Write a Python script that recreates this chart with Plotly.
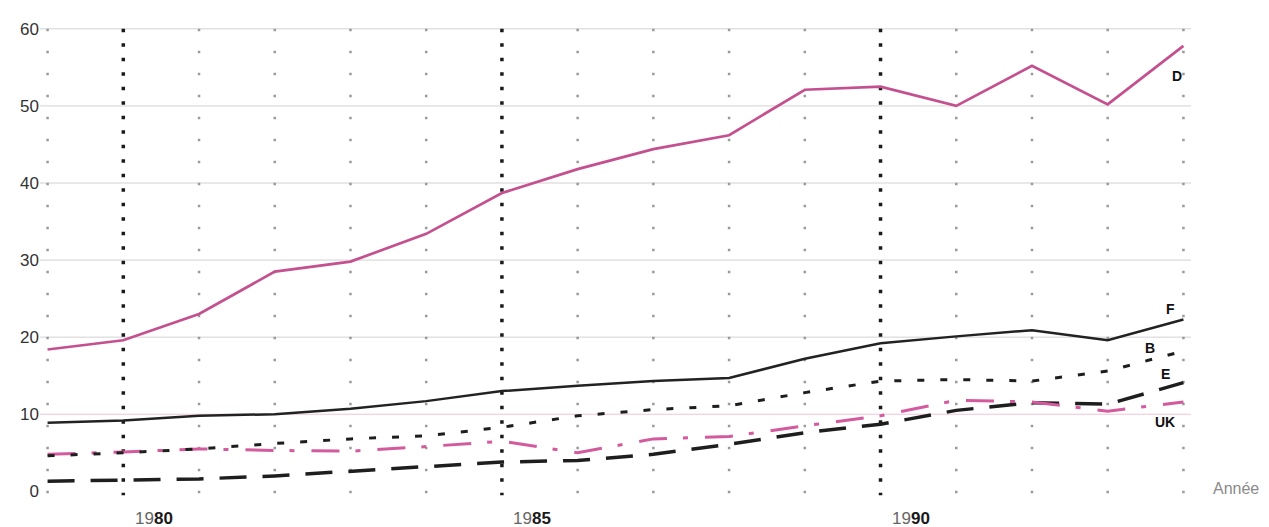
import plotly.graph_objects as go

years = list(range(1979, 1995))
D = [18.4, 19.6, 23.0, 28.5, 29.8, 33.4, 38.7, 41.8, 44.4, 46.2, 52.1, 52.5, 50.0, 55.2, 50.2, 57.8]
F = [8.9, 9.2, 9.8, 10.0, 10.7, 11.7, 13.0, 13.7, 14.3, 14.7, 17.2, 19.2, 20.1, 20.9, 19.6, 22.3]
B = [4.6, 5.0, 5.5, 6.2, 6.8, 7.2, 8.3, 9.8, 10.6, 11.1, 12.8, 14.3, 14.5, 14.3, 15.6, 18.2]
E = [1.3, 1.5, 1.6, 2.0, 2.6, 3.3, 3.8, 4.0, 4.8, 6.1, 7.6, 8.7, 10.5, 11.5, 11.3, 14.1]
UK = [4.8, 5.1, 5.5, 5.3, 5.2, 5.8, 6.5, 5.0, 6.8, 7.1, 8.5, 9.8, 11.8, 11.6, 10.4, 11.6]

series_names = ["D", "F", "B", "E", "UK"]
y_ticks = [0, 10, 20, 30, 40, 50, 60]
major_years = [1980, 1985, 1990]
x_labels = ["<span style='color:#666'>19</span><b>80</b>",
            "<span style='color:#666'>19</span><b>85</b>",
            "<span style='color:#666'>19</span><b>90</b>"]

X_RANGE = [1978.9, 1994.1]
Y_RANGE = [-1, 60.5]


def px_(x):
    return (x - X_RANGE[0]) / (X_RANGE[1] - X_RANGE[0])


def py_(y):
    return (y - Y_RANGE[0]) / (Y_RANGE[1] - Y_RANGE[0])


fig = go.Figure()
fig.add_trace(go.Scatter(x=years, y=E, mode="lines", name="E",
                         line=dict(color="#1e1e1e", width=3.5, dash="27px,16px")))
fig.add_trace(go.Scatter(x=years, y=UK, mode="lines", name="UK",
                         line=dict(color="#d45a9e", width=3, dash="28px,16px,5px,17px")))
fig.add_trace(go.Scatter(x=years, y=B, mode="lines", name="B",
                         line=dict(color="#1e1e1e", width=3, dash="7px,16px")))
fig.add_trace(go.Scatter(x=years, y=F, mode="lines", name="F",
                         line=dict(color="#222222", width=2.5)))
fig.add_trace(go.Scatter(x=years, y=D, mode="lines", name="D",
                         line=dict(color="#c4508f", width=2.7)))

shapes = []
for v in y_ticks[1:]:
    shapes.append(dict(type="line", xref="paper", x0=0, x1=1, yref="y", y0=v, y1=v,
                       line=dict(color="#f0c4d6" if v == 10 else "#d2d2d2", width=1),
                       layer="below"))
for yr in years:
    if yr in major_years:
        ln = dict(color="#1a1a1a", width=3.5, dash="3.5px,11px")
    else:
        ln = dict(color="#9a9a9a", width=2.5, dash="2.5px,19.5px")
    shapes.append(dict(type="line", xref="x", x0=yr, x1=yr, yref="y", y0=60, y1=-0.5,
                       line=ln, layer="below"))

annotations = []
label_pos = {"D": (1993.92, 53.9), "F": (1993.83, 23.6), "B": (1993.56, 18.6),
             "E": (1993.76, 15.2), "UK": (1993.76, 9.0)}
for n in series_names:
    x, y = label_pos[n]
    annotations.append(dict(x=x, y=y, xref="x", yref="y", text=f"<b>{n}</b>", showarrow=False,
                            xanchor="center", yanchor="middle",
                            font=dict(family="Liberation Sans, Arial", size=14, color="#111")))
for yr, t in zip(major_years, x_labels):
    annotations.append(dict(x=px_(yr + 0.4), y=py_(-3.5), xref="paper", yref="paper", text=t,
                            showarrow=False, xanchor="center", yanchor="middle",
                            font=dict(family="Liberation Sans, Arial", size=17, color="#1a1a1a")))
annotations.append(dict(x=px_(1994.7), y=py_(0.3), xref="paper", yref="paper", text="Année",
                        showarrow=False, xanchor="center", yanchor="middle",
                        font=dict(family="Liberation Sans, Arial", size=16, color="#8a8a8a")))

fig.update_layout(
    width=1269, height=527,
    margin=dict(l=29, r=86, t=14, b=36),
    paper_bgcolor="white", plot_bgcolor="white",
    showlegend=False,
    shapes=shapes, annotations=annotations,
    xaxis=dict(range=X_RANGE, showgrid=False, zeroline=False, showticklabels=False,
               ticks="", showline=False),
    yaxis=dict(range=Y_RANGE, showgrid=False, zeroline=False, tickvals=y_ticks,
               ticks="", showline=False,
               tickfont=dict(family="Liberation Sans, Arial", size=17, color="#333")),
)

fig.write_html("out.html")
